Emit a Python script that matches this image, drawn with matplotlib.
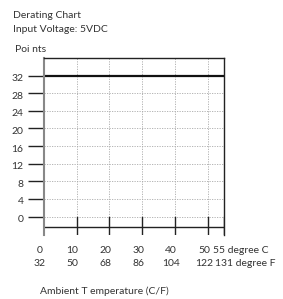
import matplotlib.pyplot as plt
import matplotlib.transforms as mtransforms

# datos
temp_c = [0, 10, 20, 30, 40, 50]
temp_f = [32, 50, 68, 86, 104, 122]
max_c, max_f = 55, 131
points_ticks = [0, 4, 8, 12, 16, 20, 24, 28, 32]
derating_x = [0, 55]
derating_y = [32, 32]

plt.rcParams['font.family'] = ['Lato', 'DejaVu Sans']
txt = '#333333'
fs = 7.5

fig = plt.figure(figsize=(2.83, 2.99), dpi=100)
ax = fig.add_axes([0.1544, 0.214, 0.638, 0.592])
ax.set_xlim(0, 55)
ax.set_ylim(-4.2, 36)

# rejilla punteada
for y in points_ticks[:-1]:
    ax.plot([0, 55], [y, y], color='#aaaaaa', lw=0.6, ls=(0, (1.5, 1.5)))
for x in temp_c[1:]:
    ax.plot([x, x], [0, 36], color='#aaaaaa', lw=0.6, ls=(0, (1.5, 1.5)))

# marcas del eje x y linea inferior
for x in temp_c[1:] + [max_c]:
    ax.plot([x, x], [-4.2, 0], color='#222222', lw=1.0)
ax.plot([0, 55], [-2.4, -2.4], color='#222222', lw=1.0)

# curva de derating
ax.plot(derating_x, derating_y, color='#111111', lw=1.6)

ax.spines['bottom'].set_visible(False)
ax.spines['left'].set_color('#888888')
ax.spines['left'].set_linewidth(1.5)
ax.spines['right'].set_color('#222222')
ax.spines['top'].set_color('#222222')
ax.spines['right'].set_linewidth(1.0)
ax.spines['top'].set_linewidth(1.0)

ax.set_xticks([])
ax.set_yticks(points_ticks)
ax.set_yticklabels([str(v) for v in points_ticks])
ax.tick_params(axis='y', length=11.5, width=1.0, color='#222222',
               pad=3, labelsize=fs, labelcolor=txt)
# etiquetas un poco por debajo de la marca
shift = mtransforms.ScaledTranslation(0, -2 / 100, fig.dpi_scale_trans)
for lab in ax.get_yticklabels():
    lab.set_transform(lab.get_transform() + shift)

# etiquetas del eje x en dos filas
for c, f in zip(temp_c, temp_f):
    ax.text(c - 1.2, -7.8, str(c), ha='center', va='center', fontsize=fs, color=txt)
    ax.text(c - 1.2, -10.6, str(f), ha='center', va='center', fontsize=fs, color=txt)
ax.text(51.5, -7.8, f'{max_c} degree C', ha='left', va='center', fontsize=fs, color=txt)
ax.text(52.1, -10.6, f'{max_f} degree F', ha='left', va='center', fontsize=fs, color=txt)

fig.text(13 / 283, 1 - 15 / 299, 'Derating Chart', ha='left', va='center', fontsize=fs, color=txt)
fig.text(13 / 283, 1 - 30 / 299, 'Input Voltage: 5VDC', ha='left', va='center', fontsize=fs, color=txt)
fig.text(15 / 283, 1 - 49 / 299, 'Poi nts', ha='left', va='center', fontsize=fs, color=txt)
fig.text(40 / 283, 1 - 291 / 299, 'Ambient T emperature (C/F)', ha='left', va='center',
         fontsize=fs, color=txt)

fig.savefig('out.png', dpi=100)
